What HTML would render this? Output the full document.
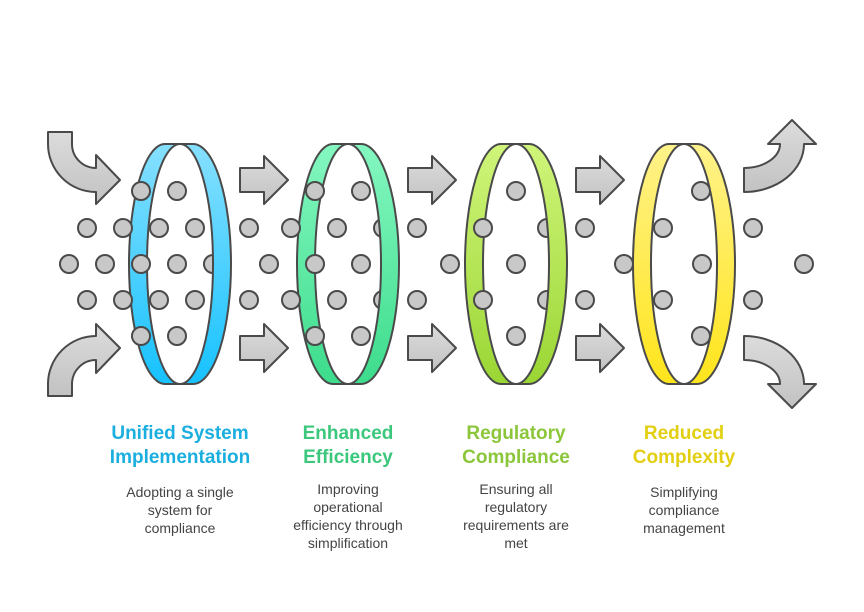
<!DOCTYPE html>
<html><head><meta charset="utf-8"><style>
html,body{margin:0;padding:0;background:#fff;}
svg{display:block}
text{font-family:"Liberation Sans",sans-serif;}
</style></head><body>
<svg width="864" height="612" viewBox="0 0 864 612" xmlns="http://www.w3.org/2000/svg">
<defs>
<linearGradient id="ga" x1="0" y1="0" x2="0" y2="1"><stop offset="0" stop-color="#dcdcdc"/><stop offset="1" stop-color="#c2c2c2"/></linearGradient>
<linearGradient id="g1" x1="0" y1="0" x2="0" y2="1"><stop offset="0" stop-color="#86e0ff"/><stop offset="1" stop-color="#17c2ff"/></linearGradient>
<linearGradient id="g2" x1="0" y1="0" x2="0" y2="1"><stop offset="0" stop-color="#84f7c0"/><stop offset="1" stop-color="#3ddc8c"/></linearGradient>
<linearGradient id="g3" x1="0" y1="0" x2="0" y2="1"><stop offset="0" stop-color="#d0f57a"/><stop offset="1" stop-color="#9ad634"/></linearGradient>
<linearGradient id="g4" x1="0" y1="0" x2="0" y2="1"><stop offset="0" stop-color="#fff28a"/><stop offset="1" stop-color="#ffe51c"/></linearGradient>
<g id="ring"><path fill-rule="evenodd" d="M165,144 A36,120 0 0 0 165,384 H193 A38,120 0 0 0 193,144 Z M180,144 A33,120 0 0 0 180,384 A33,120 0 0 0 180,144 Z"/></g>
</defs>
<g stroke="#4a4a4a" stroke-width="2" fill="url(#ga)" stroke-linejoin="round">
<path d="M48,132 H72 V144 A24,24 0 0 0 96,168 V155 L120,180 L96,204 V192 A48,48 0 0 1 48,144 Z"/>
<path d="M48,396 H72 V384 A24,24 0 0 1 96,360 V373 L120,348 L96,324 V336 A48,48 0 0 0 48,384 Z"/>
<path d="M744,168 A36,24 0 0 0 780,144 H768 L792,120 L816,144 H804 A60,48 0 0 1 744,192 Z"/>
<path d="M744,360 A36,24 0 0 1 780,384 H768 L792,408 L816,384 H804 A60,48 0 0 0 744,336 Z"/>
<path d="M240,168 H264 V156 L288,180 L264,204 V192 H240 Z"/>
<path d="M408,168 H432 V156 L456,180 L432,204 V192 H408 Z"/>
<path d="M576,168 H600 V156 L624,180 L600,204 V192 H576 Z"/>
<path d="M240,336 H264 V324 L288,348 L264,372 V360 H240 Z"/>
<path d="M408,336 H432 V324 L456,348 L432,372 V360 H408 Z"/>
<path d="M576,336 H600 V324 L624,348 L600,372 V360 H576 Z"/>
</g>
<g fill="#c8c8c8" stroke="#4a4a4a" stroke-width="2">
<circle cx="213" cy="264" r="9"/>
<circle cx="383" cy="228" r="9"/><circle cx="383" cy="300" r="9"/>
<circle cx="547" cy="228" r="9"/><circle cx="547" cy="300" r="9"/>
<circle cx="701" cy="191" r="9"/><circle cx="701" cy="336" r="9"/>
</g>
<g stroke="#4a4a4a" stroke-width="2">
<use href="#ring" fill="url(#g1)"/>
<use href="#ring" x="168" fill="url(#g2)"/>
<use href="#ring" x="336" fill="url(#g3)"/>
<use href="#ring" x="504" fill="url(#g4)"/>
</g>
<g fill="#c8c8c8" stroke="#4a4a4a" stroke-width="2">
<circle cx="141" cy="191" r="9"/><circle cx="177" cy="191" r="9"/>
<circle cx="141" cy="336" r="9"/><circle cx="177" cy="336" r="9"/>
<circle cx="87" cy="228" r="9"/><circle cx="123" cy="228" r="9"/><circle cx="159" cy="228" r="9"/><circle cx="195" cy="228" r="9"/>
<circle cx="87" cy="300" r="9"/><circle cx="123" cy="300" r="9"/><circle cx="159" cy="300" r="9"/><circle cx="195" cy="300" r="9"/>
<circle cx="69" cy="264" r="9"/><circle cx="105" cy="264" r="9"/><circle cx="141" cy="264" r="9"/><circle cx="177" cy="264" r="9"/>
<circle cx="249" cy="228" r="9"/><circle cx="291" cy="228" r="9"/><circle cx="249" cy="300" r="9"/><circle cx="291" cy="300" r="9"/>
<circle cx="269" cy="264" r="9"/>
<circle cx="315" cy="191" r="9"/><circle cx="361" cy="191" r="9"/><circle cx="315" cy="336" r="9"/><circle cx="361" cy="336" r="9"/>
<circle cx="337" cy="228" r="9"/><circle cx="337" cy="300" r="9"/>
<circle cx="315" cy="264" r="9"/><circle cx="361" cy="264" r="9"/>
<circle cx="417" cy="228" r="9"/><circle cx="417" cy="300" r="9"/><circle cx="450" cy="264" r="9"/>
<circle cx="516" cy="191" r="9"/><circle cx="516" cy="336" r="9"/><circle cx="516" cy="264" r="9"/>
<circle cx="483" cy="228" r="9"/><circle cx="483" cy="300" r="9"/>
<circle cx="585" cy="228" r="9"/><circle cx="585" cy="300" r="9"/><circle cx="624" cy="264" r="9"/>
<circle cx="663" cy="228" r="9"/><circle cx="663" cy="300" r="9"/><circle cx="702" cy="264" r="9"/>
<circle cx="753" cy="228" r="9"/><circle cx="753" cy="300" r="9"/><circle cx="804" cy="264" r="9"/>
</g>
<g font-weight="bold" font-size="19" text-anchor="middle">
<text x="180" y="439" fill="#1bafe0">Unified System</text><text x="180" y="463" fill="#1bafe0">Implementation</text>
<text x="348" y="439" fill="#3cc87c">Enhanced</text><text x="348" y="463" fill="#3cc87c">Efficiency</text>
<text x="516" y="439" fill="#8cc63a">Regulatory</text><text x="516" y="463" fill="#8cc63a">Compliance</text>
<text x="684" y="439" fill="#e3cf12">Reduced</text><text x="684" y="463" fill="#e3cf12">Complexity</text>
</g>
<g font-size="14" text-anchor="middle" fill="#444">
<text x="180" y="497">Adopting a single</text><text x="180" y="515">system for</text><text x="180" y="533">compliance</text>
<text x="348" y="494">Improving</text><text x="348" y="512">operational</text><text x="348" y="530">efficiency through</text><text x="348" y="548">simplification</text>
<text x="516" y="494">Ensuring all</text><text x="516" y="512">regulatory</text><text x="516" y="530">requirements are</text><text x="516" y="548">met</text>
<text x="684" y="497">Simplifying</text><text x="684" y="515">compliance</text><text x="684" y="533">management</text>
</g>
</svg>
</body></html>
